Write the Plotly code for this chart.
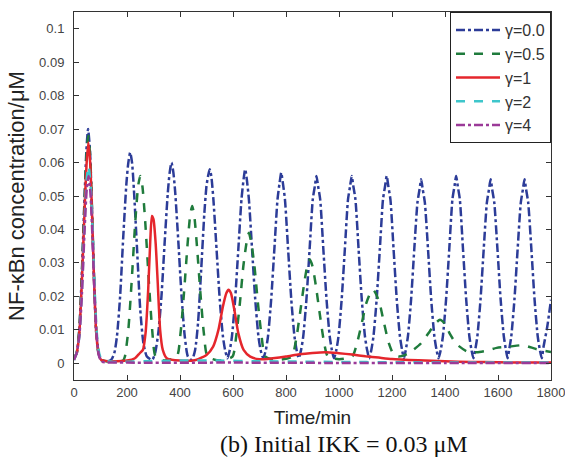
import plotly.graph_objects as go

# ---------------- data ----------------
x_ticks = [0, 200, 400, 600, 800, 1000, 1200, 1400, 1600, 1800]
y_ticks = [0, 0.01, 0.02, 0.03, 0.04, 0.05, 0.06, 0.07, 0.08, 0.09, 0.1]
y_tick_labels = ["0", "0.01", "0.02", "0.03", "0.04", "0.05", "0.06", "0.07", "0.08", "0.09", "0.1"]

series_names = ["γ=0.0", "γ=0.5", "γ=1", "γ=2", "γ=4"]

t_g00 = [0, 10, 20, 30, 40, 47, 53, 60, 67, 75, 83, 92, 102, 120, 140,
         152, 162, 174, 186, 198, 205, 212, 219, 226, 238, 250, 262, 275,
         295, 306, 318, 330, 342, 354, 361, 368, 375, 382, 394, 406, 418, 430,
         445, 457, 468, 480, 492, 500, 506, 512, 518, 526, 538, 550, 562, 570, 579,
         588, 596, 608, 620, 632, 640, 646, 652, 660, 672, 684, 696, 704, 714,
         724, 732, 744, 756, 768, 776, 782, 788, 796, 808, 820, 832, 840, 848,
         857, 865, 877, 889, 901, 909, 915, 921, 929, 941, 953, 965, 973, 981,
         990, 998, 1010, 1022, 1034, 1042, 1048, 1054, 1062, 1074, 1086, 1098, 1106, 1114,
         1122, 1130, 1142, 1154, 1166, 1174, 1180, 1186, 1194, 1206, 1218, 1230, 1238, 1245,
         1252, 1260, 1272, 1284, 1296, 1304, 1310, 1316, 1324, 1336, 1348, 1360, 1368, 1376,
         1384, 1392, 1404, 1416, 1428, 1436, 1442, 1448, 1456, 1468, 1480, 1492, 1500, 1507,
         1514, 1522, 1534, 1546, 1558, 1566, 1572, 1578, 1586, 1598, 1610, 1622, 1630, 1636,
         1642, 1650, 1662, 1674, 1686, 1694, 1700, 1706, 1714, 1726, 1738, 1750, 1758, 1765,
         1772, 1786, 1800]
v_g00 = [0.0015, 0.003, 0.010, 0.028, 0.050, 0.064, 0.070, 0.064, 0.048, 0.026, 0.010, 0.003, 0.001, 0.0005, 0.001,
         0.003, 0.008, 0.020, 0.038, 0.054, 0.060, 0.063, 0.060, 0.052, 0.034, 0.016, 0.006, 0.002,
         0.001, 0.003, 0.009, 0.020, 0.036, 0.051, 0.057, 0.060, 0.057, 0.051, 0.036, 0.020, 0.008, 0.002,
         0.001, 0.004, 0.012, 0.028, 0.045, 0.053, 0.056, 0.058, 0.056, 0.049, 0.034, 0.019, 0.008, 0.004, 0.0015,
         0.004, 0.008, 0.019, 0.034, 0.049, 0.055, 0.058, 0.055, 0.049, 0.034, 0.019, 0.008, 0.004, 0.0015,
         0.004, 0.008, 0.019, 0.034, 0.049, 0.054, 0.057, 0.054, 0.049, 0.034, 0.019, 0.008, 0.004, 0.0015,
         0.004, 0.008, 0.019, 0.034, 0.049, 0.053, 0.056, 0.053, 0.049, 0.034, 0.019, 0.008, 0.004, 0.0015,
         0.004, 0.008, 0.019, 0.034, 0.049, 0.053, 0.056, 0.053, 0.049, 0.034, 0.019, 0.008, 0.004, 0.0015,
         0.004, 0.008, 0.019, 0.034, 0.049, 0.053, 0.056, 0.053, 0.049, 0.034, 0.019, 0.008, 0.004, 0.0015,
         0.004, 0.008, 0.019, 0.034, 0.048, 0.052, 0.055, 0.052, 0.048, 0.034, 0.019, 0.008, 0.004, 0.0015,
         0.004, 0.008, 0.019, 0.034, 0.049, 0.053, 0.056, 0.053, 0.049, 0.034, 0.019, 0.008, 0.004, 0.0015,
         0.004, 0.008, 0.019, 0.034, 0.048, 0.052, 0.055, 0.052, 0.048, 0.034, 0.019, 0.008, 0.004, 0.0015,
         0.004, 0.008, 0.019, 0.034, 0.048, 0.052, 0.055, 0.052, 0.048, 0.034, 0.019, 0.008, 0.004, 0.0015,
         0.005, 0.011, 0.019]

t_g05 = [0, 10, 20, 30, 40, 47, 54, 61, 68, 76, 84, 93, 103, 140, 185,
         192, 205, 218, 231, 242, 250, 258, 269, 282, 295, 308,
         340, 388, 402, 415, 428, 438, 446, 454, 464, 477, 490, 504,
         550, 598, 612, 626, 639, 651, 660, 669, 681, 694, 708, 722,
         770, 822, 838, 853, 867, 880, 890, 900, 913, 927, 942, 958,
         1000, 1050, 1068, 1086, 1103, 1118, 1128, 1138, 1153, 1170, 1188, 1207,
         1225, 1250, 1280, 1310, 1343, 1365, 1381, 1400, 1419, 1444, 1482, 1520,
         1560, 1595, 1645, 1695, 1746, 1800]
v_g05 = [0.0015, 0.003, 0.010, 0.027, 0.049, 0.062, 0.068, 0.062, 0.046, 0.025, 0.010, 0.003, 0.001, 0.0005, 0.0008,
         0.002, 0.010, 0.025, 0.042, 0.053, 0.056, 0.053, 0.042, 0.025, 0.010, 0.002,
         0.0008, 0.002, 0.009, 0.021, 0.035, 0.044, 0.047, 0.044, 0.035, 0.021, 0.009, 0.002,
         0.0008, 0.002, 0.008, 0.018, 0.029, 0.036, 0.039, 0.036, 0.029, 0.018, 0.008, 0.002,
         0.001, 0.002, 0.007, 0.015, 0.023, 0.029, 0.031, 0.029, 0.023, 0.015, 0.007, 0.002,
         0.0012, 0.002, 0.006, 0.012, 0.018, 0.021, 0.022, 0.021, 0.018, 0.012, 0.006, 0.0025,
         0.002, 0.0025, 0.004, 0.006, 0.0096, 0.012, 0.013, 0.0118, 0.0087, 0.0057, 0.0036, 0.0033,
         0.0038, 0.0046, 0.005, 0.0054, 0.0042, 0.0034]

t_g1 = [0, 10, 20, 30, 40, 47, 54, 61, 68, 76, 84, 93, 103, 150, 200, 230, 248,
        260, 270, 280, 288, 294, 300, 308, 316, 325, 335, 350, 400, 460,
        500, 525, 545, 562, 575, 583, 592, 605, 620, 640, 665,
        700, 750, 800, 850, 900, 950, 1000, 1050, 1100, 1150, 1200,
        1300, 1400, 1500, 1600, 1700, 1800]
v_g1 = [0.0012, 0.003, 0.009, 0.025, 0.046, 0.059, 0.066, 0.060, 0.045, 0.024, 0.009, 0.003, 0.001, 0.0006, 0.0008, 0.0015, 0.003,
        0.004, 0.009, 0.022, 0.037, 0.044, 0.043, 0.036, 0.024, 0.010, 0.004, 0.0015, 0.0008, 0.001,
        0.0025, 0.005, 0.010, 0.017, 0.021, 0.022, 0.021, 0.016, 0.009, 0.004, 0.002,
        0.0012, 0.0015, 0.002, 0.0027, 0.0031, 0.0033, 0.003, 0.0026, 0.0021, 0.0017, 0.0013,
        0.0009, 0.0006, 0.0004, 0.0003, 0.0002, 0.0002]

t_g2 = [0, 10, 20, 30, 40, 48, 55, 62, 70, 78, 86, 95, 105, 150, 250, 400, 550, 700, 850, 1000, 1200, 1500, 1800]
v_g2 = [0.001, 0.003, 0.008, 0.022, 0.042, 0.055, 0.059, 0.054, 0.040, 0.022, 0.009, 0.003, 0.001,
        0.0004, 0.0006, 0.0008, 0.0008, 0.0006, 0.0005, 0.0004, 0.0003, 0.0002, 0.0002]

t_g4 = [0, 10, 20, 30, 40, 48, 55, 62, 70, 78, 86, 95, 105, 200, 600, 1000, 1400, 1800]
v_g4 = [0.001, 0.003, 0.008, 0.021, 0.040, 0.052, 0.056, 0.051, 0.037, 0.020, 0.008, 0.002, 0.0005,
        0.0002, 0.0002, 0.0001, 0.0001, 0.0001]

series_t = [t_g00, t_g05, t_g1, t_g2, t_g4]
series_v = [v_g00, v_g05, v_g1, v_g2, v_g4]
for a, b in zip(series_t, series_v):
    assert len(a) == len(b), (len(a), len(b))

# ---------------- styles ----------------
colors = ["#2c3c98", "#1f7b3c", "#e5262c", "#3ec6cb", "#9b3a98"]
dashes = ["dashdot", "dash", "solid", "dash", "dashdot"]

fig = go.Figure()
for i, name in enumerate(series_names):
    fig.add_trace(go.Scatter(
        x=series_t[i], y=series_v[i], mode="lines", name=name,
        legendgroup=f"g{i}",
        line=dict(color=colors[i], width=2.5, dash=dashes[i], shape="spline", smoothing=0.6),
    ))

sans = "Liberation Sans, Arial, sans-serif"
axis_font = dict(family=sans, size=13, color="#444")
fig.update_layout(
    width=565, height=461,
    margin=dict(l=74, r=14, t=12, b=81, autoexpand=False),
    paper_bgcolor="white", plot_bgcolor="white",
    showlegend=True,
    legend=dict(
        x=1, y=1, xanchor="right", yanchor="top",
        bgcolor="white", bordercolor="#222", borderwidth=1,
        font=dict(family=sans, size=16, color="#333"),
        itemwidth=44, tracegroupgap=3, traceorder="normal",
    ),
    xaxis=dict(
        range=[0, 1800], tickvals=x_ticks, ticks="inside", ticklen=5, tickcolor="#333",
        showline=True, mirror="allticks", linecolor="#333", linewidth=1, automargin=False,
        showgrid=False, zeroline=False, tickfont=axis_font, ticklabeloverflow="allow",
        title=dict(text="Time/min", font=dict(family=sans, size=19, color="#222"), standoff=12),
    ),
    yaxis=dict(
        range=[-0.005, 0.105], tickvals=y_ticks, ticktext=y_tick_labels,
        ticks="inside", ticklen=5, tickcolor="#333", ticklabelstandoff=6,
        showline=True, mirror="allticks", linecolor="#333", linewidth=1, automargin=False,
        showgrid=False, zeroline=False, tickfont=axis_font,
        title=dict(text="NF-κBn concentration/μM", font=dict(family=sans, size=22, color="#222"), standoff=8),
    ),
    annotations=[dict(
        text="(b) Initial IKK = 0.03 μM", xref="paper", yref="paper",
        x=0.566, y=-0.214, xanchor="center", yanchor="bottom", showarrow=False,
        font=dict(family="Liberation Serif, Times New Roman, serif", size=24, color="#111"),
    )],
)

fig.write_html(
    "out.html",
    config={"displayModeBar": False},
    post_script="document.body.style.margin='0';document.body.style.padding='0';",
)
